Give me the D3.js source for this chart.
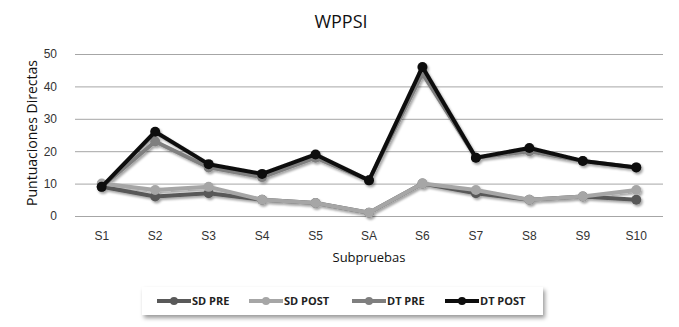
<!DOCTYPE html>
<html lang="es">
<head>
  <meta charset="UTF-8">
  <title>WPPSI</title>
  <script src="https://d3js.org/d3.v7.min.js"></script>
  <style>
    body { margin: 0; background: #fff; }
    svg { font-family: "Open Sans", "Liberation Sans", sans-serif; }
    .title { font-size: 18px; fill: #111; }
    .tick text { font-size: 12px; fill: #333; }
    .axis-label { font-size: 13px; fill: #111; }
    .y-label { font-size: 14px; }
    .legend-text { font-size: 11px; font-weight: bold; fill: #222; }
  </style>
</head>
<body>
  <div id="chart"></div>
  <script>
    const categories = ["S1", "S2", "S3", "S4", "S5", "SA", "S6", "S7", "S8", "S9", "S10"];
    const sdPre  = [9, 6, 7, 5, 4, 1, 10, 7, 5, 6, 5];
    const sdPost = [10, 8, 9, 5, 4, 1, 10, 8, 5, 6, 8];
    const dtPre  = [9, 23, 15, 12, 18, 11, 44, 18, 20, 17, 15];
    const dtPost = [9, 26, 16, 13, 19, 11, 46, 18, 21, 17, 15];
    const seriesNames = ["SD PRE", "SD POST", "DT PRE", "DT POST"];
    const yTicks = [0, 10, 20, 30, 40, 50];

    const colors = ["#595959", "#a6a6a6", "#7f7f7f", "#0d0d0d"];
    const series = [sdPre, sdPost, dtPre, dtPost].map((vals, i) => ({
      name: seriesNames[i], values: vals, color: colors[i]
    }));

    const W = 679, H = 327;
    const plot = { left: 75, right: 663, top: 54, bottom: 216 };

    const svg = d3.select("#chart").append("svg")
      .attr("width", W).attr("height", H);

    const defs = svg.append("defs");
    const sh = defs.append("filter").attr("id", "shadow")
      .attr("x", "-10%").attr("y", "-10%").attr("width", "130%").attr("height", "140%");
    sh.append("feDropShadow").attr("dx", 1.5).attr("dy", 2).attr("stdDeviation", 1.2)
      .attr("flood-color", "#000").attr("flood-opacity", 0.35);
    const bsh = defs.append("filter").attr("id", "boxshadow")
      .attr("x", "-5%").attr("y", "-20%").attr("width", "110%").attr("height", "160%");
    bsh.append("feDropShadow").attr("dx", 2).attr("dy", 3).attr("stdDeviation", 2)
      .attr("flood-color", "#000").attr("flood-opacity", 0.4);

    const x = d3.scaleBand().domain(categories).range([plot.left, plot.right]);
    const y = d3.scaleLinear().domain([0, 50]).range([plot.bottom, plot.top]);

    // gridlines
    svg.append("g")
      .attr("transform", `translate(${plot.left},0)`)
      .call(d3.axisLeft(y).tickValues(yTicks).tickSize(-(plot.right - plot.left)).tickPadding(18))
      .call(g => g.select(".domain").remove())
      .call(g => g.selectAll(".tick line").attr("stroke", "#a6a6a6").attr("stroke-width", 1));

    // x axis labels
    svg.append("g")
      .attr("transform", `translate(0,${plot.bottom})`)
      .call(d3.axisBottom(x).tickSize(0).tickPadding(15))
      .call(g => g.select(".domain").remove());

    const cx = d => x(d) + x.bandwidth() / 2;
    const line = d3.line().x((d, i) => cx(categories[i])).y(d => y(d));

    const gSeries = svg.append("g").attr("filter", "url(#shadow)");
    series.forEach(s => {
      const g = gSeries.append("g");
      g.append("path")
        .attr("d", line(s.values))
        .attr("fill", "none")
        .attr("stroke", s.color)
        .attr("stroke-width", 4)
        .attr("stroke-linejoin", "round");
      g.selectAll("circle")
        .data(s.values)
        .enter().append("circle")
        .attr("cx", (d, i) => cx(categories[i]))
        .attr("cy", d => y(d))
        .attr("r", 5)
        .attr("fill", s.color);
    });

    svg.append("text").attr("class", "title")
      .attr("x", 341).attr("y", 28).attr("text-anchor", "middle").text("WPPSI");

    svg.append("text").attr("class", "axis-label y-label")
      .attr("transform", `translate(37,${(plot.top + plot.bottom) / 2 - 2}) rotate(-90)`)
      .attr("text-anchor", "middle").text("Puntuaciones Directas");

    svg.append("text").attr("class", "axis-label")
      .attr("x", 369).attr("y", 262).attr("text-anchor", "middle").text("Subpruebas");

    // legend
    const legend = svg.append("g");
    legend.append("rect")
      .attr("x", 142).attr("y", 287).attr("width", 401).attr("height", 28)
      .attr("fill", "#fff").attr("filter", "url(#boxshadow)");
    const legendX = [157, 249, 352, 445];
    series.forEach((s, i) => {
      const lx = legendX[i];
      legend.append("line")
        .attr("x1", lx).attr("x2", lx + 34).attr("y1", 301).attr("y2", 301)
        .attr("stroke", s.color).attr("stroke-width", 4);
      legend.append("circle")
        .attr("cx", lx + 17).attr("cy", 301).attr("r", 4).attr("fill", s.color);
      legend.append("text").attr("class", "legend-text")
        .attr("x", lx + 35).attr("y", 305).text(s.name);
    });
  </script>
</body>
</html>
